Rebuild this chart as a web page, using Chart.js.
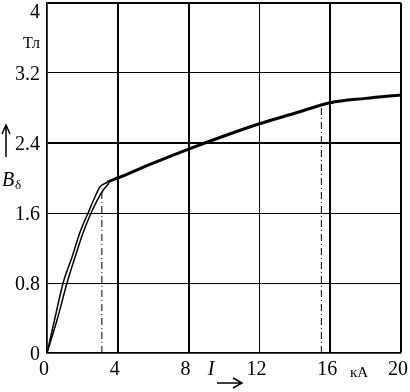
<!DOCTYPE html>
<html>
<head>
<meta charset="utf-8">
<script src="https://cdn.jsdelivr.net/npm/chart.js@4"></script>
<style>
body { margin: 0; background: #fff; }
canvas { display: block; }
</style>
</head>
<body>
<canvas id="grafico" width="410" height="392"></canvas>
<script>
const xTicks = [0, 4, 8, 12, 16, 20];
const yTicks = [0, 0.8, 1.6, 2.4, 3.2, 4];

// outer line of the curve (continues as the single thick line)
const currentOuter = [0, 0.45, 0.91, 1.42, 1.9, 2.32, 2.7, 3.0, 3.4, 4, 6, 8, 10, 12, 14, 16, 18, 20];
const inductionOuter = [0, 0.4, 0.8, 1.1, 1.4, 1.6, 1.78, 1.9, 1.95, 2.0, 2.17, 2.33, 2.48, 2.62, 2.74, 2.86, 2.91, 2.95];

// inner line of the double part
const currentInner = [0, 0.6, 1.13, 1.59, 2.05, 2.49, 2.85, 3.17, 3.5];
const inductionInner = [0, 0.4, 0.8, 1.1, 1.38, 1.6, 1.75, 1.86, 1.94];

// dash-dot marker lines
const kneeI = [3.1, 3.1];
const kneeB = [0, 1.88];
const satI = [15.5, 15.5];
const satB = [0, 2.84];

const xWidths = { 0: 1.5, 4: 2, 8: 2, 12: 1, 16: 2, 20: 2 };
const yWidths = { 0: 1.5, 0.8: 1, 1.6: 1, 2.4: 2, 3.2: 1, 4: 2 };

function pontos(xs, ys) {
    return xs.map((x, i) => ({ x: x, y: ys[i] }));
}

const extras = {
    id: "extras",
    afterDraw(chart) {
        const ctx = chart.ctx;
        ctx.save();
        ctx.fillStyle = "#000";
        ctx.strokeStyle = "#000";

        ctx.textAlign = "right";
        ctx.textBaseline = "alphabetic";
        ctx.font = '20px "Liberation Serif"';
        ctx.fillText("4", 40, 18);
        ctx.font = '16px "Liberation Serif"';
        ctx.fillText("Тл", 40, 48);

        // up arrow by B
        ctx.lineWidth = 1.5;
        ctx.beginPath();
        ctx.moveTo(6, 157);
        ctx.lineTo(6, 125);
        ctx.moveTo(2, 134);
        ctx.lineTo(6, 125);
        ctx.lineTo(10, 134);
        ctx.stroke();

        ctx.textAlign = "left";
        ctx.font = 'italic 20px "Liberation Serif"';
        ctx.fillText("B", 2, 186);
        ctx.font = '13px "Liberation Serif"';
        ctx.fillText("δ", 15, 189);

        ctx.font = 'italic 20px "Liberation Serif"';
        ctx.textAlign = "center";
        ctx.fillText("I", 211, 375);

        // right arrow under I
        ctx.beginPath();
        ctx.moveTo(217, 383);
        ctx.lineTo(242, 383);
        ctx.moveTo(233, 378);
        ctx.lineTo(242, 383);
        ctx.lineTo(233, 388);
        ctx.stroke();

        ctx.font = '15px "Liberation Serif"';
        ctx.fillText("кА", 359, 377);
        ctx.restore();
    }
};

const ctx = document.getElementById("grafico").getContext("2d");

new Chart(ctx, {
    type: "scatter",
    data: {
        datasets: [
            {
                data: pontos(currentOuter, inductionOuter),
                showLine: true,
                borderColor: "#000",
                borderWidth: 1.5,
                pointRadius: 0,
                cubicInterpolationMode: "monotone",
                segment: {
                    borderWidth: c => c.p1.parsed.x > 3.5 ? 3 : 1.5
                }
            },
            {
                data: pontos(currentInner, inductionInner),
                showLine: true,
                borderColor: "#000",
                borderWidth: 1.5,
                pointRadius: 0,
                cubicInterpolationMode: "monotone"
            },
            {
                data: pontos(kneeI, kneeB),
                showLine: true,
                borderColor: "#000",
                borderWidth: 1,
                borderDash: [7, 3, 1, 3],
                pointRadius: 0
            },
            {
                data: pontos(satI, satB),
                showLine: true,
                borderColor: "#000",
                borderWidth: 1,
                borderDash: [7, 3, 1, 3],
                pointRadius: 0
            }
        ]
    },
    options: {
        responsive: false,
        animation: false,
        layout: { padding: { left: 0, top: 3, right: 9, bottom: 0 } },
        plugins: { legend: { display: false }, tooltip: { enabled: false } },
        scales: {
            x: {
                type: "linear",
                min: 0,
                max: 20,
                afterBuildTicks: s => { s.ticks = xTicks.map(v => ({ value: v })); },
                afterFit: s => { s.height = 39; s.paddingLeft = 0; s.paddingRight = 0; },
                grid: {
                    color: "#000",
                    lineWidth: c => xWidths[c.tick ? c.tick.value : 0] || 1,
                    drawTicks: false
                },
                border: { display: true, color: "#000", width: 1.5 },
                ticks: {
                    color: "#000",
                    font: { family: "Liberation Serif", size: 20 },
                    padding: 5,
                    labelOffset: -3,
                    maxRotation: 0,
                    callback: v => String(v)
                }
            },
            y: {
                min: 0,
                max: 4,
                afterBuildTicks: s => { s.ticks = yTicks.map(v => ({ value: v })); },
                afterFit: s => { s.width = 47; s.paddingTop = 0; s.paddingBottom = 0; },
                grid: {
                    color: "#000",
                    lineWidth: c => yWidths[c.tick ? c.tick.value : 0] || 1,
                    drawTicks: false
                },
                border: { display: true, color: "#000", width: 1.5 },
                ticks: {
                    color: "#000",
                    font: { family: "Liberation Serif", size: 20 },
                    padding: 7,
                    labelOffset: 2,
                    callback: v => v === 4 ? "" : String(v)
                }
            }
        }
    },
    plugins: [extras]
});
</script>
</body>
</html>
